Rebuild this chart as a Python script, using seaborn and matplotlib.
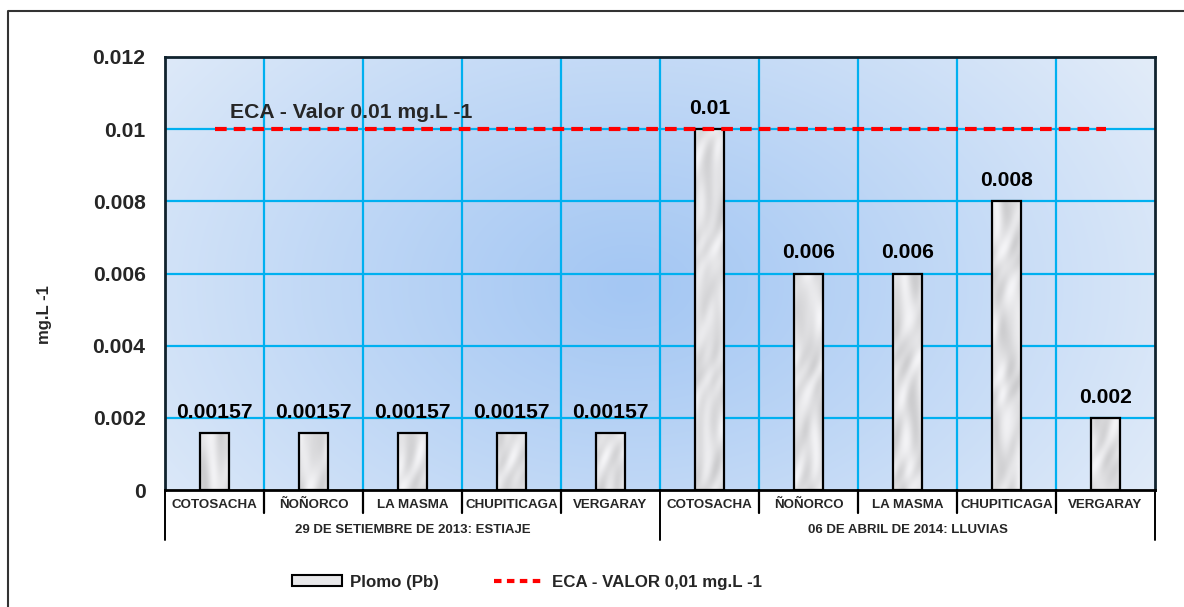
import numpy as np
import pandas as pd
import matplotlib
matplotlib.use("Agg")
import matplotlib.pyplot as plt
from matplotlib.lines import Line2D
from matplotlib.patches import Patch
from matplotlib.colors import to_rgb
import seaborn as sns

# ---- data ----
sitios = ["COTOSACHA", "ÑOÑORCO", "LA MASMA", "CHUPITICAGA", "VERGARAY",
          "COTOSACHA", "ÑOÑORCO", "LA MASMA", "CHUPITICAGA", "VERGARAY"]
campanas = ["29 DE SETIEMBRE DE 2013: ESTIAJE", "06 DE ABRIL DE 2014: LLUVIAS"]
campana_idx = [0, 0, 0, 0, 0, 1, 1, 1, 1, 1]
plomo = [0.00157, 0.00157, 0.00157, 0.00157, 0.00157,
         0.01, 0.006, 0.006, 0.008, 0.002]
etiquetas = ["0.00157", "0.00157", "0.00157", "0.00157", "0.00157",
             "0.01", "0.006", "0.006", "0.008", "0.002"]
eca = 0.01
yticks = [0, 0.002, 0.004, 0.006, 0.008, 0.01, 0.012]
ytick_labels = ["0", "0.002", "0.004", "0.006", "0.008", "0.01", "0.012"]

df = pd.DataFrame({"pos": range(len(sitios)), "sitio": sitios, "plomo": plomo})

# ---- figure geometry (pixels) ----
W, H = 1184, 607
DPI = 100
sns.set_theme(style="white")
plt.rcParams["font.family"] = ["Liberation Sans", "DejaVu Sans"]
plt.rcParams["font.weight"] = "bold"

fig = plt.figure(figsize=(W / DPI, H / DPI), dpi=DPI)
fig.patch.set_facecolor("white")

L, R, T, B = 165, 1155, 57, 490
BIG = 15.2


def fx(px):
    return px / W


def fy(py):
    return 1 - py / H


ax = fig.add_axes([fx(L), fy(B), (R - L) / W, (B - T) / H])
n = len(sitios)
ax.set_xlim(-0.5, n - 0.5)
ax.set_ylim(0, 0.012)

# radial blue background
gx = np.linspace(L, R, 400)
gy = np.linspace(T, B, 200)
GX, GY = np.meshgrid(gx, gy)
d = np.sqrt(((GX - 630) / 620) ** 2 + ((GY - 260) / 420) ** 2)
d = np.clip(d, 0, 1) ** 1.1
c_in = np.array(to_rgb("#a4c7f3"))
c_out = np.array(to_rgb("#e2ecf9"))
img = c_in[None, None, :] * (1 - d[..., None]) + c_out[None, None, :] * d[..., None]
ax.imshow(img, extent=(-0.5, n - 0.5, 0.012, 0), aspect="auto", zorder=0,
          interpolation="bilinear")
ax.set_ylim(0, 0.012)

# grid
grid_c = "#00b0f0"
for yv in yticks[1:-1]:
    ax.axhline(yv, color=grid_c, lw=1.6, zorder=1)
for k in range(1, n):
    ax.axvline(k - 0.5, color=grid_c, lw=1.6, zorder=1)

# bars
sns.barplot(data=df, x="pos", y="plomo", width=0.3, color="#e6e6e8",
            edgecolor="black", linewidth=1.6, saturation=1, ax=ax, zorder=3)
ax.set_xlim(-0.5, n - 0.5)

# marble-like texture inside the bars
for i, p in enumerate(ax.patches):
    x0, w = p.get_x(), p.get_width()
    h = p.get_height()
    uu, vv = np.meshgrid(np.linspace(0, 30, 40), np.linspace(0, h * 36000, 160))
    tex = (0.88
           + 0.035 * np.sin(0.07 * vv + 2.0 * np.sin(0.17 * uu + 0.03 * vv + i))
           + 0.025 * np.sin(0.23 * uu - 0.045 * vv + 1.7 * i)
           + 0.02 * np.sin(0.11 * vv + 0.4 * uu + 3.1 * np.cos(0.05 * vv + i)))
    tex = np.clip(tex, 0, 1)
    timg = np.dstack([tex, tex, np.clip(tex * 1.01, 0, 1)])
    im = ax.imshow(timg, extent=(x0, x0 + w, 0, h), aspect="auto",
                   zorder=3.5, interpolation="bicubic")
    im.set_clip_path(p)
    p.set_facecolor("none")
    p.set_zorder(4)
ax.set_ylim(0, 0.012)

# value labels
for i, (v, lab) in enumerate(zip(plomo, etiquetas)):
    ax.annotate(lab, (i, v), xytext=(0, 11), textcoords="offset points",
                ha="center", va="baseline", fontsize=BIG, fontweight="bold",
                color="black", zorder=6)

# ECA reference line
ax.plot([0, n - 1], [eca, eca], color="#ff0000", lw=3, dashes=(2.8, 1.7),
        solid_capstyle="butt", dash_capstyle="butt", zorder=5)
ax.text(0.16, eca + 0.0003, "ECA - Valor 0.01 mg.L -1", fontsize=BIG,
        fontweight="bold", ha="left", va="baseline", zorder=6)

# axes styling
ax.set_yticks(yticks)
ax.set_yticklabels(ytick_labels, fontsize=BIG, fontweight="bold")
ax.tick_params(axis="y", length=0, pad=14)
ax.set_xticks([])
ax.set_xlabel("")
ax.set_ylabel("")
for s in ax.spines.values():
    s.set_visible(True)
    s.set_color("#10232e")
    s.set_linewidth(2)
ax.spines["bottom"].set_color("black")

fig.text(fx(45), fy(315), "mg.L -1", rotation=90, ha="center", va="center",
         fontsize=12, fontweight="bold")

# category table below the axis
cw = (R - L) / n
row1, row2 = 513, 540
for k in range(n + 1):
    xp = L + k * cw
    y_end = row2 if k in (0, 5, n) else row1
    fig.add_artist(Line2D([fx(xp), fx(xp)], [fy(B), fy(y_end)], color="black",
                          lw=1.6 if y_end == row1 else 1.4))
for i, s in enumerate(sitios):
    fig.text(fx(L + (i + 0.5) * cw), fy(505), s, ha="center", va="center",
             fontsize=9.6, fontweight="bold")
for g, name in enumerate(campanas):
    members = [i for i in range(n) if campana_idx[i] == g]
    xc = L + (min(members) + max(members) + 1) / 2 * cw
    fig.text(fx(xc), fy(530), name, ha="center", va="center", fontsize=9.5,
             fontweight="bold")

# outer chart frame
fig.add_artist(Line2D([fx(8), fx(8), fx(W + 5)], [fy(H + 5), fy(11), fy(11)],
                      color="#333333", lw=1.5))

# legend
handles = [Patch(facecolor="#e8e8ea", edgecolor="black", lw=1.5, label="Plomo (Pb)"),
           Line2D([], [], color="#ff0000", lw=3, dashes=(1.8, 1.3),
                  label="ECA - VALOR 0,01 mg.L -1")]
fig.legend(handles=handles, loc="center", bbox_to_anchor=(fx(527), fy(582)),
           ncol=2, frameon=False, handlelength=3.0,
           handleheight=0.68, handletextpad=0.42, columnspacing=3.3,
           prop={"weight": "bold", "size": 12.2})

fig.savefig("out.png", dpi=DPI)
